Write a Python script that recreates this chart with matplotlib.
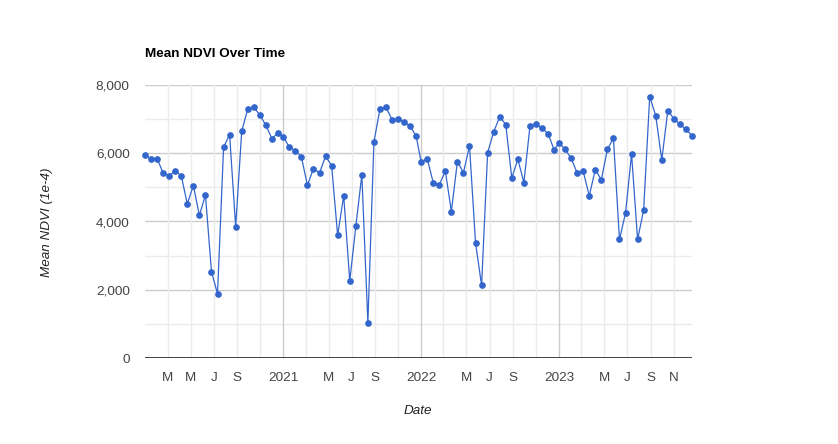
import matplotlib
matplotlib.use("Agg")
import matplotlib.pyplot as plt
from matplotlib.ticker import FuncFormatter
import pandas as pd

plt.rcParams['font.family'] = ['Liberation Sans', 'DejaVu Sans']

# 16-day composites, 23 per year
years = [2020, 2021, 2022, 2023]

ndvi_2020 = [5951, 5844, 5844, 5424, 5337, 5483, 5337, 4517, 5054, 4176, 4780, 2527,
             1883, 6176, 6546, 3844, 6644, 7298, 7346, 7122, 6819, 6429, 6595]
ndvi_2021 = [6490, 6176, 6078, 5893, 5063, 5551, 5424, 5912, 5639, 3590, 4761, 2254,
             3854, 5366, 1034, 6332, 7298, 7346, 6985, 7015, 6927, 6790, 6497]
ndvi_2022 = [5737, 5844, 5141, 5073, 5483, 4293, 5756, 5434, 6215, 3376, 2127, 6020,
             6624, 7073, 6839, 5278, 5824, 5141, 6790, 6849, 6732, 6575, 6098]
ndvi_2023 = [6302, 6117, 5854, 5424, 5473, 4751, 5522, 5220, 6117, 6439, 3473, 4244,
             5980, 3473, 4341, 7658, 7102, 5805, 7249, 7015, 6849, 6702, 6517]

tick_labels = ['', 'M', 'M', 'J', 'S', '',
               '2021', '', 'M', 'J', 'S', '',
               '2022', '', 'M', 'J', 'S', '',
               '2023', '', 'M', 'J', 'S', 'N']

dates = []
for y in years:
    dates += list(pd.date_range(f'{y}-01-01', f'{y}-12-31', freq='16D'))
values = ndvi_2020 + ndvi_2021 + ndvi_2022 + ndvi_2023

W, H = 838, 444
fig = plt.figure(figsize=(W / 100, H / 100), dpi=100)
ax = fig.add_axes([145 / W, (H - 358) / H, (692 - 145) / W, (358 - 85) / H])

ax.plot(dates, values, color='#3366cc', lw=0.9, marker='o', ms=3.8,
        mec='#3366cc', mfc='#3366cc', clip_on=False, zorder=5)

ax.set_xlim(dates[0], dates[-1])
ax.set_ylim(0, 8000)

# horizontal grid
for v in range(1000, 8001, 1000):
    ax.axhline(v, color='#cccccc' if v % 2000 == 0 else '#ebebeb', lw=1, zorder=1)
ax.axhline(0, color='#333333', lw=1.3, zorder=6)

# vertical grid every two months, darker at years
ticks = list(pd.date_range('2020-01-01', '2023-11-01', freq='2MS'))
for t in ticks:
    if t <= dates[0]:
        continue
    ax.axvline(t, color='#cccccc' if t.month == 1 else '#ebebeb', lw=1, zorder=1)

ax.set_xticks(ticks)
ax.set_xticklabels(tick_labels)
ax.set_yticks(range(0, 8001, 2000))
ax.yaxis.set_major_formatter(FuncFormatter(lambda v, p: f'{int(v):,}'))
ax.tick_params(axis='both', length=0, labelsize=9.7, colors='#444444')
ax.tick_params(axis='x', pad=10)
ax.tick_params(axis='y', pad=11)
for s in ax.spines.values():
    s.set_visible(False)

fig.text(145 / W, 1 - 54 / H, 'Mean NDVI Over Time', fontsize=9.7,
         fontweight='bold', color='#000000', va='center', ha='left')
fig.text(418 / W, 1 - 411 / H, 'Date', fontsize=9.7, style='italic',
         color='#222222', ha='center', va='center')
fig.text(47 / W, 1 - 222 / H, 'Mean NDVI (1e-4)', fontsize=9.7, style='italic',
         color='#222222', ha='center', va='center', rotation=90)

fig.savefig('out.png', dpi=100)
